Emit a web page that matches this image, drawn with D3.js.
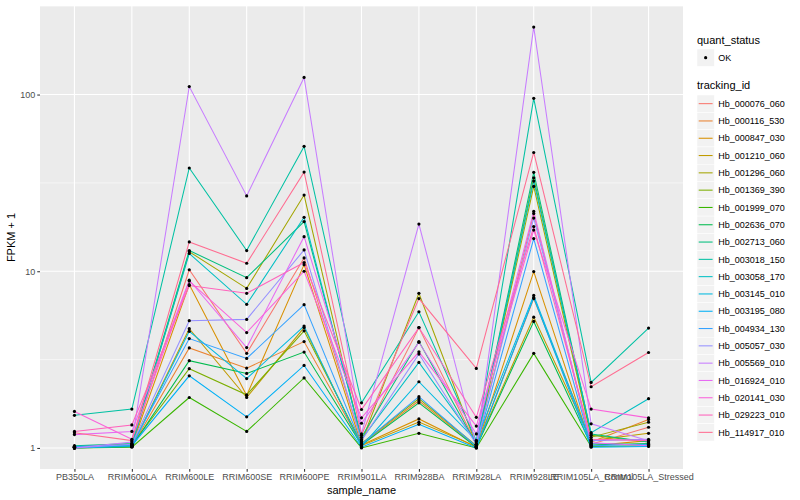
<!DOCTYPE html>
<html>
<head>
<meta charset="utf-8">
<script src="https://cdn.jsdelivr.net/npm/d3@7"></script>
<style>
  body { margin: 0; background: #fff; }
  text { font-family: "Liberation Sans", Arial, sans-serif; }
</style>
</head>
<body>
<svg id="chart" width="800" height="500"></svg>
<script>
// --- Data ---
const samples = ["PB350LA", "RRIM600LA", "RRIM600LE", "RRIM600SE", "RRIM600PE", "RRIM901LA",
                 "RRIM928BA", "RRIM928LA", "RRIM928LE", "RRIM105LA_Control", "RRIM105LA_Stressed"];

const trackingIds = ["Hb_000076_060", "Hb_000116_530", "Hb_000847_030", "Hb_001210_060", "Hb_001296_060",
                     "Hb_001369_390", "Hb_001999_070", "Hb_002636_070", "Hb_002713_060", "Hb_003018_150",
                     "Hb_003058_170", "Hb_003145_010", "Hb_003195_080", "Hb_004934_130", "Hb_005057_030",
                     "Hb_005569_010", "Hb_016924_010", "Hb_020141_030", "Hb_029223_010", "Hb_114917_010"];

// FPKM + 1, one row per tracking_id, one value per sample
const fpkm = [
  [1.02, 1.05, 10.2, 3.43, 11.9, 1.10, 4.8, 1.05, 21.2, 1.05, 1.31],
  [1.00, 1.02, 3.68, 2.83, 4.0, 1.05, 1.85, 1.02, 7.0, 1.08, 1.45],
  [1.01, 1.03, 8.4, 1.98, 10.9, 1.04, 1.46, 1.01, 9.96, 1.03, 1.10],
  [1.01, 1.02, 4.73, 1.93, 4.8, 1.03, 1.40, 1.02, 5.5, 1.10, 1.21],
  [1.00, 1.03, 12.9, 8.0, 27.0, 1.08, 7.5, 1.04, 30.2, 1.15, 1.40],
  [1.02, 1.04, 2.81, 2.0, 4.6, 1.06, 1.90, 1.03, 33.8, 1.18, 1.08],
  [1.00, 1.01, 1.93, 1.24, 2.49, 1.00, 1.21, 1.00, 3.43, 1.02, 1.03],
  [1.01, 1.02, 3.12, 2.64, 3.49, 1.04, 1.80, 1.01, 5.2, 1.04, 1.06],
  [1.03, 1.06, 13.1, 9.2, 19.1, 1.15, 4.0, 1.05, 36.3, 1.20, 1.08],
  [1.53, 1.66, 38.4, 13.1, 50.9, 1.80, 5.9, 1.10, 95.2, 2.35, 4.77],
  [1.02, 1.04, 12.6, 6.5, 20.2, 1.12, 3.05, 1.08, 32.4, 1.22, 1.90],
  [1.00, 1.02, 4.57, 2.47, 4.9, 1.02, 2.37, 1.10, 7.3, 1.06, 1.04],
  [1.01, 1.03, 2.56, 1.50, 2.93, 1.01, 1.36, 1.00, 7.1, 1.01, 1.02],
  [1.02, 1.04, 4.16, 3.21, 6.47, 1.05, 1.95, 1.02, 15.3, 1.03, 1.05],
  [1.00, 1.05, 5.25, 5.34, 13.2, 1.10, 3.4, 1.05, 20.0, 1.10, 1.12],
  [1.00, 1.08, 111, 26.7, 125, 1.20, 18.5, 1.03, 241, 1.37, 1.10],
  [1.19, 1.24, 8.9, 3.7, 15.7, 1.38, 3.96, 1.20, 21.8, 1.07, 1.03],
  [1.61, 1.12, 8.8, 4.5, 10.0, 1.48, 3.5, 1.33, 17.1, 1.66, 1.48],
  [1.24, 1.35, 8.3, 7.5, 11.2, 1.65, 4.8, 1.49, 17.9, 1.12, 1.10],
  [1.22, 1.10, 14.65, 11.1, 36.4, 1.18, 7.0, 2.82, 47.0, 2.22, 3.47]
];

const yTicks = [1, 10, 100];
const yMinor = [Math.sqrt(10), Math.sqrt(1000), Math.sqrt(100000)];

const palette = ["#F8766D", "#EA8331", "#D89000", "#C09B00", "#A3A500", "#7CAE00", "#39B600", "#00BB4E",
                 "#00BF7D", "#00C1A3", "#00BFC4", "#00BAE0", "#00B0F6", "#35A2FF", "#9590FF", "#C77CFF",
                 "#E76BF3", "#FA62DB", "#FF62BC", "#FF6C91"];

// --- Layout ---
const panel = { left: 40, right: 683, top: 6, bottom: 469 };
const svg = d3.select("#chart");

const series = trackingIds.map((id, i) => ({
  id: id,
  values: samples.map((s, j) => ({ sample: s, value: fpkm[i][j] }))
}));

const x = d3.scalePoint().domain(samples).range([panel.left, panel.right]).padding(0.6);

const allVals = fpkm.flat();
const lo = Math.log10(d3.min(allVals)), hi = Math.log10(d3.max(allVals));
const pad = (hi - lo) * 0.05;
const y = d3.scaleLog().domain([Math.pow(10, lo - pad), Math.pow(10, hi + pad)])
  .range([panel.bottom, panel.top]);

// panel background
svg.append("rect")
  .attr("x", panel.left).attr("y", panel.top)
  .attr("width", panel.right - panel.left).attr("height", panel.bottom - panel.top)
  .attr("fill", "#EBEBEB");

const grid = svg.append("g");
grid.selectAll(".minor").data(yMinor.filter(v => y(v) >= panel.top)).enter()
  .append("line")
  .attr("x1", panel.left).attr("x2", panel.right)
  .attr("y1", d => y(d)).attr("y2", d => y(d))
  .attr("stroke", "#fff").attr("stroke-width", 0.55);
grid.selectAll(".major").data(yTicks).enter()
  .append("line")
  .attr("x1", panel.left).attr("x2", panel.right)
  .attr("y1", d => y(d)).attr("y2", d => y(d))
  .attr("stroke", "#fff").attr("stroke-width", 1.1);
grid.selectAll(".vmajor").data(samples).enter()
  .append("line")
  .attr("x1", d => x(d)).attr("x2", d => x(d))
  .attr("y1", panel.top).attr("y2", panel.bottom)
  .attr("stroke", "#fff").attr("stroke-width", 1.1);

// lines
const line = d3.line().x(d => x(d.sample)).y(d => y(d.value));
svg.append("g").selectAll("path").data(series).enter()
  .append("path")
  .attr("d", d => line(d.values))
  .attr("fill", "none")
  .attr("stroke", (d, i) => palette[i])
  .attr("stroke-width", 1.05);

// points
svg.append("g").selectAll("circle").data(series.flatMap(s => s.values)).enter()
  .append("circle")
  .attr("cx", d => x(d.sample)).attr("cy", d => y(d.value))
  .attr("r", 1.6).attr("fill", "#000");

// axes
const yAxis = svg.append("g")
  .attr("transform", `translate(${panel.left},0)`)
  .call(d3.axisLeft(y).tickValues(yTicks).tickFormat(d3.format("d")).tickSize(2.75).tickPadding(2));
const xAxis = svg.append("g")
  .attr("transform", `translate(0,${panel.bottom})`)
  .call(d3.axisBottom(x).tickSize(2.75).tickPadding(2));
[yAxis, xAxis].forEach(a => {
  a.select(".domain").remove();
  a.selectAll(".tick line").attr("stroke", "#333333").attr("stroke-width", 1.05);
  a.selectAll(".tick text").attr("fill", "#4D4D4D").style("font-size", "9px")
    .style("font-family", '"Liberation Sans", Arial, sans-serif');
});

svg.append("text")
  .attr("x", (panel.left + panel.right) / 2).attr("y", 494)
  .attr("text-anchor", "middle").style("font-size", "11px").text("sample_name");
svg.append("text")
  .attr("transform", `translate(15,${(panel.top + panel.bottom) / 2}) rotate(-90)`)
  .attr("text-anchor", "middle").style("font-size", "11px").text("FPKM + 1");

// legend
const lg = svg.append("g").attr("transform", "translate(697,0)");
const keySize = 17.3;
lg.append("text").attr("x", 0).attr("y", 44).style("font-size", "11px").text("quant_status");
lg.append("rect").attr("x", 0).attr("y", 49).attr("width", keySize).attr("height", keySize)
  .attr("fill", "#F2F2F2").attr("stroke", "#fff").attr("stroke-width", 0.5);
lg.append("circle").attr("cx", keySize / 2).attr("cy", 49 + keySize / 2).attr("r", 1.6).attr("fill", "#000");
lg.append("text").attr("x", keySize + 4).attr("y", 49 + keySize / 2 + 3.2)
  .style("font-size", "9px").attr("fill", "#000").text("OK");

lg.append("text").attr("x", 0).attr("y", 89).style("font-size", "11px").text("tracking_id");
const keyTop = 95;
const keys = lg.selectAll(".key").data(trackingIds).enter()
  .append("g").attr("transform", (d, i) => `translate(0,${keyTop + i * keySize})`);
keys.append("rect").attr("width", keySize).attr("height", keySize)
  .attr("fill", "#F2F2F2").attr("stroke", "#fff").attr("stroke-width", 0.5);
keys.append("line").attr("x1", 1.7).attr("x2", keySize - 1.7)
  .attr("y1", keySize / 2).attr("y2", keySize / 2)
  .attr("stroke", (d, i) => palette[i]).attr("stroke-width", 1.05);
keys.append("text").attr("x", keySize + 4).attr("y", keySize / 2 + 3.2)
  .style("font-size", "9px").text(d => d);
</script>
</body>
</html>
